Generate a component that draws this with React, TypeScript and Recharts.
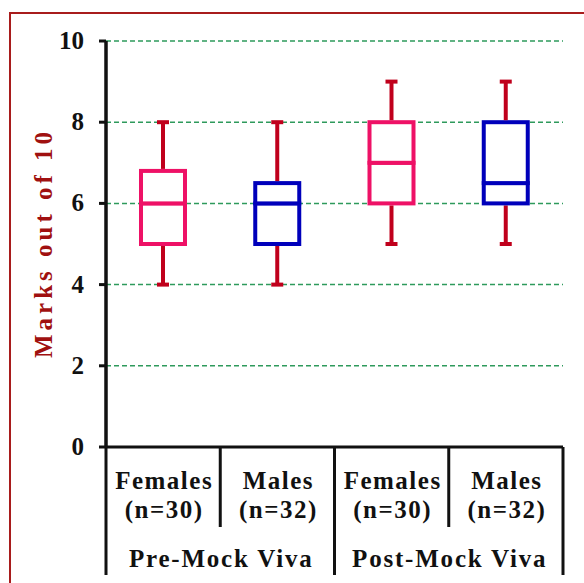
import { Bar, BarChart, CartesianGrid, XAxis, YAxis } from "recharts";

const categories = ["Females", "Males", "Females", "Males"];
const sampleSizes = ["(n=30)", "(n=32)", "(n=30)", "(n=32)"];
const groups = ["Pre-Mock Viva", "Post-Mock Viva"];
const minValues = [4, 4, 5, 5];
const q1Values = [5, 5, 6, 6];
const medianValues = [6, 6, 7, 6.5];
const q3Values = [6.8, 6.5, 8, 8];
const maxValues = [8, 8, 9, 9];
const yTicks = [0, 2, 4, 6, 8, 10];

const W = 584;
const H = 583;
const MARGIN = { top: 41, right: 21, bottom: 6, left: 46 };
const Y_AXIS_W = 60;
const X_AXIS_H = 130;
const PLOT_LEFT = MARGIN.left + Y_AXIS_W;
const PLOT_BOTTOM = H - MARGIN.bottom - X_AXIS_H;
const BAND = (W - MARGIN.right - PLOT_LEFT) / categories.length;

const font = "Liberation Serif";
const ink = "#111";
const whiskerColor = "#c0001c";
const boxColors = ["#ee1166", "#0000bb", "#ee1166", "#0000bb"];
const gridColor = "#2e9a5c";

const data = categories.map((label, i) => ({
  label,
  base: minValues[i],
  lowW: q1Values[i] - minValues[i],
  lowB: medianValues[i] - q1Values[i],
  highB: q3Values[i] - medianValues[i],
  highW: maxValues[i] - q3Values[i],
}));

const Empty = () => <g />;

function LowWhisker(p: any) {
  const cx = p.x + p.width / 2;
  return (
    <g>
      <line x1={cx} x2={cx} y1={p.y + 2} y2={p.y + p.height} stroke={whiskerColor} strokeWidth={4} />
      <rect x={cx - 6} y={p.y + p.height - 2} width={12} height={4} fill={whiskerColor} />
    </g>
  );
}

function HighWhisker(p: any) {
  const cx = p.x + p.width / 2;
  return (
    <g>
      <line x1={cx} x2={cx} y1={p.y} y2={p.y + p.height - 2} stroke={whiskerColor} strokeWidth={4} />
      <rect x={cx - 6} y={p.y - 2} width={12} height={4} fill={whiskerColor} />
    </g>
  );
}

function BoxHalf(p: any) {
  return (
    <rect x={p.x} y={p.y} width={p.width} height={p.height} fill="#fff"
      stroke={boxColors[p.index]} strokeWidth={4} />
  );
}

function YTick(p: any) {
  return (
    <g>
      <line x1={PLOT_LEFT - 7} x2={PLOT_LEFT} y1={p.y} y2={p.y} stroke={ink} strokeWidth={3} />
      <text x={PLOT_LEFT - 22} y={p.y + 8} textAnchor="end" fontFamily={font} fontWeight={700}
        fontSize={25} fill={ink}>{p.payload.value}</text>
    </g>
  );
}

function XTick(p: any) {
  const i = p.index as number;
  const x = p.x as number;
  const left = x - BAND / 2;
  const long = PLOT_BOTTOM + 128;
  const short = PLOT_BOTTOM + 80;
  const txt = { fontFamily: font, fontWeight: 700, fontSize: 25, fill: ink, textAnchor: "middle" as const };
  return (
    <g>
      <line x1={left} x2={left} y1={i === 0 ? MARGIN.top : PLOT_BOTTOM} y2={i % 2 === 0 ? long : short}
        stroke={ink} strokeWidth={3} />
      {i === categories.length - 1 && (
        <line x1={x + BAND / 2} x2={x + BAND / 2} y1={PLOT_BOTTOM} y2={long} stroke={ink} strokeWidth={3} />
      )}
      <text x={x + 1} y={PLOT_BOTTOM + 42} {...txt} letterSpacing={1.5}>{categories[i]}</text>
      <text x={x + 1} y={PLOT_BOTTOM + 71} {...txt} letterSpacing={1.5}>{sampleSizes[i]}</text>
      {i % 2 === 0 && (
        <text x={x + BAND / 2 + 1} y={PLOT_BOTTOM + 120} {...txt} letterSpacing={1.8}>{groups[i / 2]}</text>
      )}
    </g>
  );
}

function YLabel() {
  const cx = 52;
  const cy = 243;
  return (
    <text x={cx} y={cy} transform={`rotate(-90, ${cx}, ${cy})`} textAnchor="middle"
      fontFamily={font} fontWeight={700} fontSize={25} fill="#a01010" letterSpacing={4}>
      Marks out of 10
    </text>
  );
}

export default function App() {
  return (
    <div style={{ position: "absolute", left: 0, top: 0, width: W, height: H, background: "#fff", overflow: "hidden" }}>
      <div style={{ position: "absolute", left: 9, top: 12, width: 640, height: 640, border: "2.5px solid #a81c1c" }} />
      <div style={{ position: "absolute", left: 0, top: 0 }}>
        <BarChart width={W} height={H} data={data} margin={MARGIN} barSize={44}>
          <CartesianGrid vertical={false} stroke={gridColor} strokeDasharray="5 3" strokeWidth={1.5} />
          <XAxis dataKey="label" height={X_AXIS_H} axisLine={{ stroke: ink, strokeWidth: 3 }} tickLine={false}
            tick={<XTick />} interval={0} />
          <YAxis width={Y_AXIS_W} domain={[0, 10]} ticks={yTicks} interval={0}
            axisLine={{ stroke: ink, strokeWidth: 3 }} tickLine={false} tick={<YTick />}
            label={<YLabel />} />
          <Bar dataKey="base" stackId="b" shape={<Empty />} isAnimationActive={false} />
          <Bar dataKey="lowW" stackId="b" shape={<LowWhisker />} isAnimationActive={false} />
          <Bar dataKey="lowB" stackId="b" shape={<BoxHalf />} isAnimationActive={false} />
          <Bar dataKey="highB" stackId="b" shape={<BoxHalf />} isAnimationActive={false} />
          <Bar dataKey="highW" stackId="b" shape={<HighWhisker />} isAnimationActive={false} />
        </BarChart>
      </div>
    </div>
  );
}
